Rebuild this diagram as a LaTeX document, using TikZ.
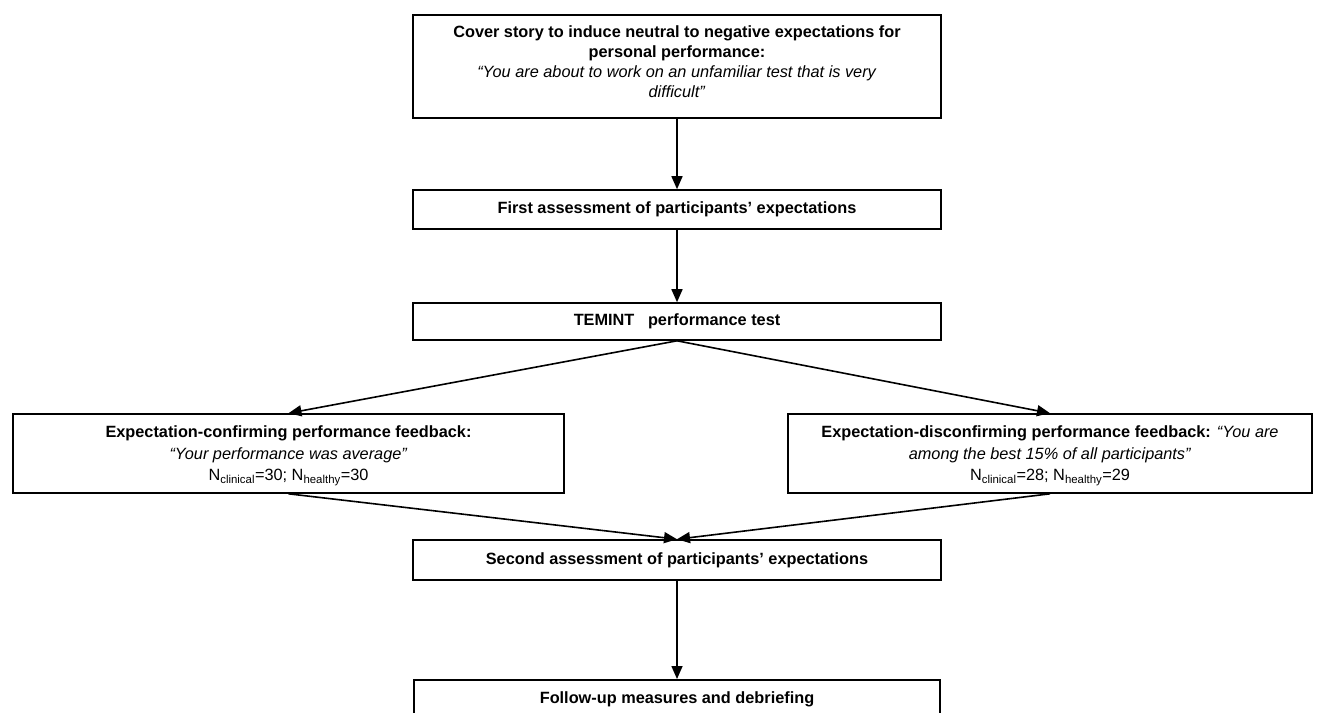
\documentclass[tikz,border=0pt]{standalone}
\usepackage{fontspec}
\setmainfont{Liberation Sans}
\usetikzlibrary{arrows.meta}
\begin{document}
\begin{tikzpicture}[x=1pt,y=-1pt,
  box/.style={draw, line width=1.6pt, inner sep=0pt, align=center,
    font=\fontsize{16.3}{19.8}\selectfont},
  txt/.style={inner sep=0pt, align=center, font=\fontsize{16.3}{21.5}\selectfont},
  arr/.style={line width=1.6pt, -{Triangle[length=13pt,width=11pt]}}]
\useasboundingbox (0,0) rectangle (1330,712);
\clip (0,0) rectangle (1330,712);
\node[box, minimum width=528, minimum height=103, text depth=10pt] (t) at (677,66.5)
  {\textbf{Cover story to induce neutral to negative expectations for}\\
   \textbf{personal performance:}\\
   \textit{“You are about to work on an unfamiliar test that is very}\\
   \textit{difficult”}};
\node[box, minimum width=528, minimum height=39] (b2) at (677,209.5)
  {\textbf{First assessment of participants' expectations}};
\node[box, minimum width=528, minimum height=37] (b3) at (677,321.5)
  {\textbf{TEMINT\ \ \ performance test}};
\node[box, minimum width=551, minimum height=79] (l) at (288.5,453.5) {};
\node[txt] (lt) at (288.5,456)
  {\textbf{Expectation-confirming performance feedback:}\\
   \textit{“Your performance was average”}\\
   N\textsubscript{clinical}=30; N\textsubscript{healthy}=30};
\node[box, minimum width=524, minimum height=79] (r) at (1050,453.5) {};
\node[txt] (rt) at (1050,456)
  {\textbf{Expectation-disconfirming performance feedback:} \textit{“You are}\\
   \textit{among the best 15\% of all participants”}\\
   N\textsubscript{clinical}=28; N\textsubscript{healthy}=29};
\node[box, minimum width=528, minimum height=40] (s) at (677,560)
  {\textbf{Second assessment of participants' expectations}};
\node[box, anchor=north, minimum width=526, inner ysep=12pt, text depth=30pt] (f) at (677,679)
  {\textbf{Follow-up measures and debriefing}};
\draw[arr] (t.south) -- (b2.north);
\draw[arr] (b2.south) -- (b3.north);
\draw[arr] (b3.south) -- (l.north);
\draw[arr] (b3.south) -- (r.north);
\draw[arr] (l.south) -- (s.north);
\draw[arr] (r.south) -- (s.north);
\draw[arr] (s.south) -- (f.north);
\end{tikzpicture}
\end{document}
